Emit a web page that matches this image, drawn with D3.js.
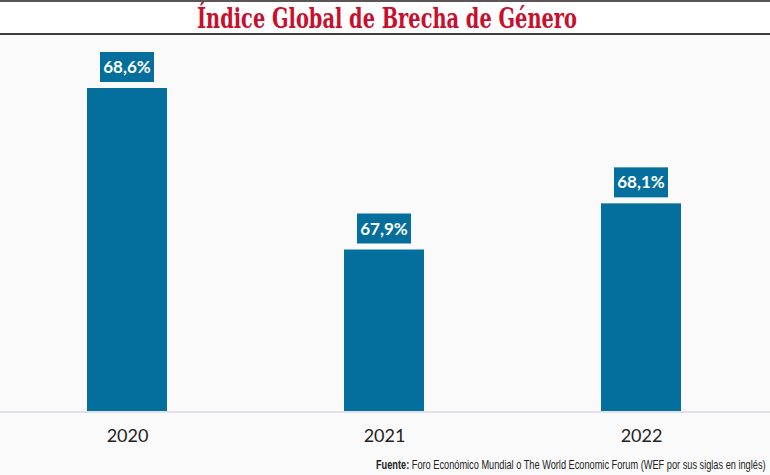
<!DOCTYPE html>
<html>
<head>
<meta charset="utf-8">
<script src="https://cdn.jsdelivr.net/npm/d3@7"></script>
<style>
  body { margin: 0; background: #fafafa; }
  svg { display: block; }
</style>
</head>
<body>
<svg id="chart" width="770" height="475"></svg>
<script>
var years = ['2020', '2021', '2022'];
var values = [68.6, 67.9, 68.1];
var labels = ['68,6%', '67,9%', '68,1%'];

var svg = d3.select('#chart'),
    width = 770,
    baseY = 411,
    blue = '#046f9d';

// header band
svg.append('rect').attr('x', 0).attr('y', 0).attr('width', width).attr('height', 34).attr('fill', '#ffffff');
svg.append('rect').attr('x', 0).attr('y', 0).attr('width', width).attr('height', 2).attr('fill', '#5a5658');
svg.append('rect').attr('x', 0).attr('y', 33).attr('width', width).attr('height', 2).attr('fill', '#3e3c3d');

svg.append('text')
    .attr('x', 387).attr('y', 28)
    .attr('text-anchor', 'middle')
    .attr('textLength', 380)
    .attr('lengthAdjust', 'spacingAndGlyphs')
    .style('font-family', '"DejaVu Serif Condensed", "Liberation Serif", serif')
    .style('font-weight', 'bold')
    .style('font-size', '27px')
    .style('fill', '#c8102e')
    .text('Índice Global de Brecha de Género');

var x = d3.scalePoint()
    .domain(years)
    .range([127, 641]);

var y = d3.scaleLinear()
    .domain([67.2, 68.6])
    .range([baseY, 88]);

var barW = 80;

// baseline
svg.append('line')
    .attr('x1', 0).attr('x2', width)
    .attr('y1', baseY + 1).attr('y2', baseY + 1)
    .attr('stroke', '#dfe3e8').attr('stroke-width', 2);

var g = svg.selectAll('.bar')
    .data(years)
    .enter().append('g');

g.append('rect')
    .attr('x', function(d) { return x(d) - barW / 2; })
    .attr('y', function(d, i) { return y(values[i]); })
    .attr('width', barW)
    .attr('height', function(d, i) { return baseY - y(values[i]); })
    .attr('fill', blue);

g.append('rect')
    .attr('x', function(d) { return x(d) - 27; })
    .attr('y', function(d, i) { return y(values[i]) - 36; })
    .attr('width', 54)
    .attr('height', 30)
    .attr('fill', blue);

g.append('text')
    .attr('x', function(d) { return x(d); })
    .attr('y', function(d, i) { return y(values[i]) - 15; })
    .attr('text-anchor', 'middle')
    .style('font-family', 'Lato, "Open Sans", sans-serif')
    .style('font-weight', 'bold')
    .style('font-size', '17px')
    .style('fill', '#ffffff')
    .text(function(d, i) { return labels[i]; });

// x axis labels
svg.append('g')
    .attr('transform', 'translate(0,' + (baseY + 1) + ')')
    .call(d3.axisBottom(x).tickSize(0).tickPadding(17))
    .call(function(a) {
        a.select('.domain').remove();
        a.selectAll('text')
            .style('font-family', 'Lato, sans-serif')
            .style('font-size', '18px')
            .style('fill', '#222');
    });

// source, fitted to the same width as the reference
var src = svg.append('text')
    .attr('x', 0).attr('y', 0)
    .style('font-family', '"Liberation Sans Narrow", "Liberation Sans", sans-serif')
    .style('font-size', '12px')
    .style('fill', '#222');
src.append('tspan').style('font-weight', 'bold').text('Fuente: ');
src.append('tspan').text('Foro Económico Mundial o The World Economic Forum (WEF por sus siglas en inglés)');
var w = src.node().getComputedTextLength(),
    k = 390 / w;
src.attr('transform', 'translate(' + (766 - 390) + ',469) scale(' + k + ',1)');
</script>
</body>
</html>
